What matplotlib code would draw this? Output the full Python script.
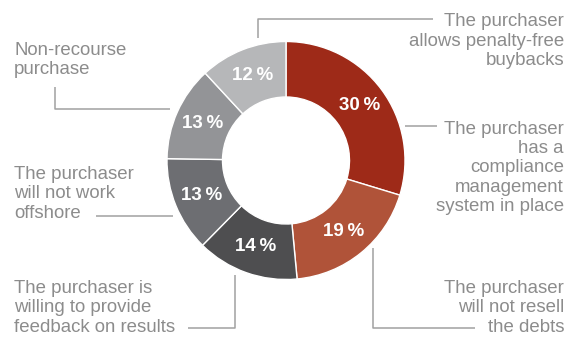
import matplotlib.pyplot as plt

W, H = 579, 339

shares = [30, 19, 14, 13, 13, 12]
pct_labels = ['30\u2009%', '19\u2009%', '14\u2009%', '13\u2009%', '13\u2009%', '12\u2009%']
colors = ['#9e2a18', '#b05339', '#4e4e50', '#6d6e72', '#939497', '#b6b7b9']

right_texts = [
    'The purchaser\nallows penalty-free\nbuybacks',
    'The purchaser\nhas a\ncompliance\nmanagement\nsystem in place',
    'The purchaser\nwill not resell\nthe debts',
]
left_texts = [
    'Non-recourse\npurchase',
    'The purchaser\nwill not work\noffshore',
    'The purchaser is\nwilling to provide\nfeedback on results',
]

# layout in pixels, y measured from the top
center = (286, 160.5)
r_out = 119
r_in = 63.5
right_y = [41, 168, 308]
left_y = [60, 194, 308]
leaders = [
    [(258, 38), (258, 19), (433, 19)],
    [(405, 126), (437, 126)],
    [(373, 248), (373, 328), (475, 328)],
    [(235, 275), (235, 328), (188, 328)],
    [(96, 216), (173, 216)],
    [(55, 87), (55, 109), (170, 109)],
]

text_col = '#8c8c8c'
line_col = '#a0a0a0'
plt.rcParams['font.family'] = ['Liberation Sans', 'DejaVu Sans']

fig = plt.figure(figsize=(W / 100, H / 100), dpi=100)
ax = fig.add_axes([0, 0, 1, 1])

wedges, _, autotexts = ax.pie(
    shares, colors=colors, startangle=90, counterclock=False,
    center=(center[0], H - center[1]), radius=r_out,
    labels=None, autopct=lambda p: '', pctdistance=0.77,
    wedgeprops=dict(width=r_out - r_in, edgecolor='white', linewidth=1),
)
for t, s in zip(autotexts, pct_labels):
    t.set_text(s)
    t.set_color('white')
    t.set_fontsize(13.5)
    t.set_fontweight('bold')

for pts in leaders:
    xs = [p[0] for p in pts]
    ys = [H - p[1] for p in pts]
    ax.plot(xs, ys, color=line_col, lw=1.1, solid_capstyle='butt')

for s, y in zip(right_texts, right_y):
    ax.text(564, H - y, s, ha='right', va='center', fontsize=13.4,
            color=text_col, linespacing=1.17, multialignment='right')
for s, y in zip(left_texts, left_y):
    ax.text(14, H - y, s, ha='left', va='center', fontsize=13.4,
            color=text_col, linespacing=1.17, multialignment='left')

ax.set_xlim(0, W)
ax.set_ylim(0, H)
ax.set_aspect('auto')
ax.axis('off')

fig.savefig('out.png', dpi=100)
